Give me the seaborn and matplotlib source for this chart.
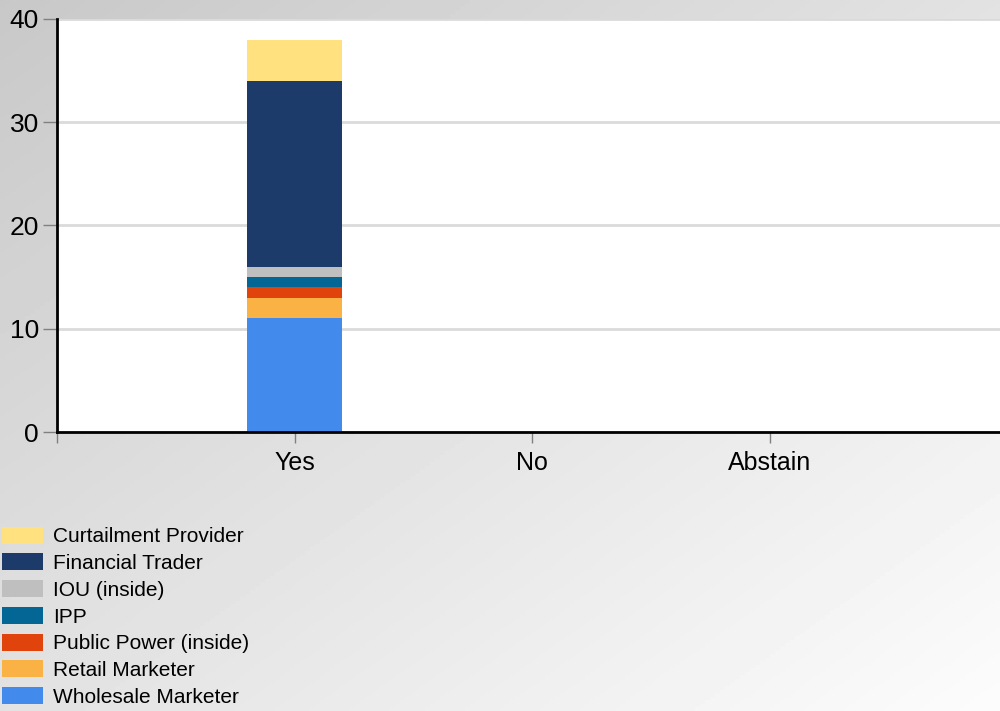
import numpy as np
import pandas as pd
import seaborn as sns
import matplotlib.pyplot as plt
from matplotlib.patches import Patch

sns.set_theme(style="white")
plt.rcParams['font.family'] = ['Liberation Sans', 'DejaVu Sans']
plt.rcParams['text.color'] = 'black'

# Vote categories and sector counts (stacked bottom -> top)
votes = ["Yes", "No", "Abstain"]
sectors = ["Wholesale Marketer", "Retail Marketer", "Public Power (inside)", "IPP",
           "IOU (inside)", "Financial Trader", "Curtailment Provider"]
counts = {
    "Wholesale Marketer": [11, 0, 0],
    "Retail Marketer": [2, 0, 0],
    "Public Power (inside)": [1, 0, 0],
    "IPP": [1, 0, 0],
    "IOU (inside)": [1, 0, 0],
    "Financial Trader": [18, 0, 0],
    "Curtailment Provider": [4, 0, 0],
}
colors = {
    "Wholesale Marketer": "#428bed",
    "Retail Marketer": "#fbb244",
    "Public Power (inside)": "#e0430c",
    "IPP": "#046694",
    "IOU (inside)": "#bfbfbf",
    "Financial Trader": "#1c3a6a",
    "Curtailment Provider": "#ffe180",
}

fig = plt.figure(figsize=(10, 7.11), dpi=100)

# gradient background
bg = fig.add_axes([0, 0, 1, 1], zorder=-10)
yy, xx = np.mgrid[0:1:200j, 0:1:200j]
grad = 200 + 52 * (0.5 * xx + 0.5 * yy)
bg.imshow(grad, cmap="gray", vmin=0, vmax=255, aspect="auto", extent=[0, 1, 0, 1], origin="upper")
bg.axis("off")

ax = fig.add_axes([0.057, 0.3924, 0.943, 0.5809])
ax.set_facecolor("white")

bottom = np.zeros(len(votes))
for s in sectors:
    df = pd.DataFrame({"vote": votes, "n": counts[s]})
    sns.barplot(data=df, x="vote", y="n", order=votes, color=colors[s],
                bottom=bottom, width=0.4, saturation=1, ax=ax, linewidth=0, zorder=3)
    bottom = bottom + np.array(counts[s])

ax.set_ylim(0, 40)
ax.set_xlim(-1, 2.97)
ax.set_yticks([0, 10, 20, 30, 40])
ax.set_xticks([-1, 0, 1, 2])
ax.set_xticklabels(["", "Yes", "No", "Abstain"])
ax.set_xlabel("")
ax.set_ylabel("")
ax.yaxis.grid(True, color="#dadada", linewidth=2, zorder=0)
ax.set_axisbelow(True)
ax.tick_params(axis="y", labelsize=19, length=10, width=1, color="#808080", pad=3, left=True,
               labelcolor="black")
ax.tick_params(axis="x", labelsize=18, length=8, width=1, color="#808080", pad=6, bottom=True,
               labelcolor="black")
for sp in ["top", "right"]:
    ax.spines[sp].set_visible(False)
for sp in ["left", "bottom"]:
    ax.spines[sp].set_color("black")
    ax.spines[sp].set_linewidth(2)
    ax.spines[sp].set_zorder(5)

handles = [Patch(facecolor=colors[s], edgecolor="none", label=s) for s in sectors[::-1]]
fig.legend(handles=handles, loc="lower left", bbox_to_anchor=(0.002, 0.006), frameon=False,
           fontsize=15, handlelength=1.97, handleheight=0.87, handletextpad=0.48,
           labelspacing=0.34, borderpad=0, borderaxespad=0)

fig.savefig("out.png", dpi=100)
